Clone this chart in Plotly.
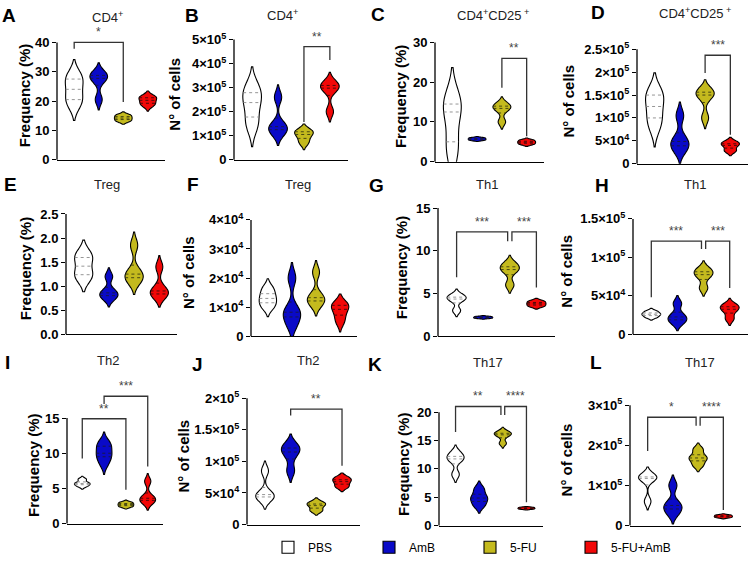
import numpy as np
import plotly.graph_objects as go

W, H = 750, 571
FONT = "Arial, 'Liberation Sans', sans-serif"

GROUPS = ["PBS", "AmB", "5-FU", "5-FU+AmB"]
COLORS = ["#FFFFFF", "#0A0AC8", "#C4BA1E", "#F20808"]
QCOLORS = ["#8a8a8a", "#1a1a3a", "#3a3a10", "#3a0a0a"]

# ---------------- data (PBS, AmB, 5-FU, 5-FU+AmB) ----------------
A_CD4_FREQ = [[19, 20.5, 24, 27.5, 28.5], [20.5, 27, 28.5, 29.5], [13.2, 14.2, 15.2], [18.5, 19.5, 21, 21.5]]
B_CD4_NUM = [[1.4e5, 1.6e5, 2.3e5, 2.45e5, 2.9e5, 3.0e5], [1.1e5, 1.3e5, 1.45e5, 2.6e5], [0.7e5, 0.95e5, 1.15e5, 1.2e5], [2.0e5, 2.9e5, 3.05e5, 3.2e5]]
C_CD25_FREQ = [[2, 5, 12.5, 14.5, 15.5], [5.4, 5.7, 6.0], [10, 13, 13.8, 14.5], [4.4, 4.9, 5.4]]
D_CD25_NUM = [[0.8e5, 1.0e5, 1.25e5, 1.5e5, 1.55e5], [0.3e5, 0.42e5, 0.55e5, 1.05e5], [1.0e5, 1.45e5, 1.55e5, 1.6e5], [0.28e5, 0.4e5, 0.47e5]]
E_TREG_FREQ = [[1.2, 1.25, 1.58, 1.64], [0.75, 0.82, 0.9, 1.2], [1.1, 1.2, 1.3, 1.85], [0.8, 0.85, 0.95, 1.4]]
F_TREG_NUM = [[1.0e4, 1.2e4, 1.4e4, 1.65e4], [0.4e4, 0.75e4, 0.9e4, 2.0e4], [1.1e4, 1.25e4, 1.4e4, 2.2e4], [0.5e4, 0.8e4, 1.05e4, 1.1e4]]
G_TH1_FREQ = [[3.0, 4.2, 4.5, 4.8], [2.1, 2.2, 2.3], [6.0, 7.6, 8.0, 8.5], [3.5, 3.8, 4.1]]
H_TH1_NUM = [[0.22e5, 0.25e5, 0.27e5, 0.3e5], [0.15e5, 0.2e5, 0.25e5, 0.4e5], [0.6e5, 0.75e5, 0.8e5, 0.85e5], [0.2e5, 0.3e5, 0.35e5, 0.38e5]]
I_TH2_FREQ = [[5.3, 5.6, 5.8, 6.3], [8.5, 9.5, 10, 11, 11.5], [2.4, 2.7, 3.0], [3.0, 3.4, 3.8, 6.0]]
J_TH2_NUM = [[0.4e5, 0.45e5, 0.5e5, 0.85e5], [0.85e5, 1.1e5, 1.2e5, 1.25e5], [0.22e5, 0.3e5, 0.35e5], [0.6e5, 0.68e5, 0.74e5]]
K_TH17_FREQ = [[9, 11.5, 12, 12.8], [3.5, 4.5, 5.2, 6.5], [14.5, 15.8, 16.2, 16.5], [2.9, 3.05, 3.2]]
L_TH17_NUM = [[0.6e5, 1.15e5, 1.2e5, 1.25e5], [0.3e5, 0.45e5, 0.55e5, 1.0e5], [1.5e5, 1.65e5, 1.72e5, 1.9e5], [0.2e5, 0.23e5, 0.26e5]]

# tick values / labels
T_40 = [0, 10, 20, 30, 40]
T_5E5 = [0, 1e5, 2e5, 3e5, 4e5, 5e5]
L_5E5 = ["0", "1×10<sup>5</sup>", "2×10<sup>5</sup>", "3×10<sup>5</sup>", "4×10<sup>5</sup>", "5×10<sup>5</sup>"]
T_30 = [0, 10, 20, 30]
T_25E5 = [0, 5e4, 1e5, 1.5e5, 2e5, 2.5e5]
L_25E5 = ["0", "5×10<sup>4</sup>", "1×10<sup>5</sup>", "1.5×10<sup>5</sup>", "2×10<sup>5</sup>", "2.5×10<sup>5</sup>"]
T_25 = [0, 0.5, 1.0, 1.5, 2.0, 2.5]
L_25 = ["0.0", "0.5", "1.0", "1.5", "2.0", "2.5"]
T_4E4 = [0, 1e4, 2e4, 3e4, 4e4]
L_4E4 = ["0", "1×10<sup>4</sup>", "2×10<sup>4</sup>", "3×10<sup>4</sup>", "4×10<sup>4</sup>"]
T_15 = [0, 5, 10, 15]
T_15E5 = [0, 5e4, 1e5, 1.5e5]
L_15E5 = ["0", "5×10<sup>4</sup>", "1×10<sup>5</sup>", "1.5×10<sup>5</sup>"]
T_2E5 = [0, 5e4, 1e5, 1.5e5, 2e5]
L_2E5 = ["0", "5×10<sup>4</sup>", "1×10<sup>5</sup>", "1.5×10<sup>5</sup>", "2×10<sup>5</sup>"]
T_20 = [0, 5, 10, 15, 20]
T_3E5 = [0, 1e5, 2e5, 3e5]
L_3E5 = ["0", "1×10<sup>5</sup>", "2×10<sup>5</sup>", "3×10<sup>5</sup>"]

# significance brackets: (group1, group2, height, leg1 end, leg2 end, label)
BR_A = [(0, 2, 40, 37.8, 19.7, "*")]
BR_B = [(2, 3, 4.7e5, 1.57e5, 4.15e5, "**")]
BR_C = [(2, 3, 26.0, 18.6, 6.4, "**")]
BR_D = [(2, 3, 2.37e5, 1.98e5, 0.63e5, "***")]
BR_G = [(0, 2, 12.2, 6.9, 11.1, "***"), (2, 3, 12.2, 11.1, 5.7, "***")]
BR_H = [(0, 2, 1.21e5, 0.48e5, 1.11e5, "***"), (2, 3, 1.21e5, 1.11e5, 0.6e5, "***")]
BR_I = [(0, 2, 14.9, 9.25, 4.8, "**"), (1, 3, 18.1, 17.0, 8.1, "***")]
BR_J = [(1, 3, 1.83e5, 1.73e5, 0.93e5, "**")]
BR_K = [(0, 2, 21.0, 16.5, 19.5, "**"), (2, 3, 21.0, 19.5, 4.1, "****")]
BR_L = [(0, 2, 2.7e5, 1.86e5, 2.49e5, "*"), (2, 3, 2.7e5, 2.49e5, 0.39e5, "****")]

FREQ = "Frequency (%)"
NUM = "N° of cells"
PANELS = [
    ("A", "CD4<sup>+</sup>", FREQ, A_CD4_FREQ, T_40, [str(t) for t in T_40], BR_A),
    ("B", "CD4<sup>+</sup>", NUM, B_CD4_NUM, T_5E5, L_5E5, BR_B),
    ("C", "CD4<sup>+</sup>CD25<sup> +</sup>", FREQ, C_CD25_FREQ, T_30, [str(t) for t in T_30], BR_C),
    ("D", "CD4<sup>+</sup>CD25<sup> +</sup>", NUM, D_CD25_NUM, T_25E5, L_25E5, BR_D),
    ("E", "Treg", FREQ, E_TREG_FREQ, T_25, L_25, []),
    ("F", "Treg", NUM, F_TREG_NUM, T_4E4, L_4E4, []),
    ("G", "Th1", FREQ, G_TH1_FREQ, T_15, [str(t) for t in T_15], BR_G),
    ("H", "Th1", NUM, H_TH1_NUM, T_15E5, L_15E5, BR_H),
    ("I", "Th2", FREQ, I_TH2_FREQ, T_15, [str(t) for t in T_15], BR_I),
    ("J", "Th2", NUM, J_TH2_NUM, T_2E5, L_2E5, BR_J),
    ("K", "Th17", FREQ, K_TH17_FREQ, T_20, [str(t) for t in T_20], BR_K),
    ("L", "Th17", NUM, L_TH17_NUM, T_3E5, L_3E5, BR_L),
]

# ---------------- layout geometry (pixels) ----------------
# (axis left x, axis right x, y of zero, y of top tick)
BOXES = [(57, 165, 162, 43), (234, 348, 162, 40), (435, 544, 164, 43), (637, 748, 166, 50),
         (66, 177, 339, 217), (251, 357, 341, 223), (438, 555, 341, 211), (633, 748, 339, 222),
         (67, 163, 531, 424), (247, 360, 532, 404), (439, 543, 533, 418), (630, 741, 533, 411)]
LETTER_POS = [(9, 16), (192, 16), (378, 15), (598, 13), (10, 187), (193, 187), (376, 188), (602, 188),
              (7, 368), (197, 370), (375, 370), (596, 368)]
TITLE_POS = [(107, 17), (282, 15), (493, 15), (695, 13), (107, 187), (298, 187), (487, 187), (695, 187),
             (108, 366), (308, 366), (488, 368), (700, 368)]
YTITLE_X = [24, 175, 400, 569, 25, 188, 401, 567, 34, 184, 404, 566]
EXT = 1.3
XR = [-0.7, 3.7]
VW = 0.72
BW_SCALE = 0.88


def bandwidth(v):
    v = np.asarray(v, float)
    n = len(v)
    sd = v.std(ddof=1)
    q1, q3 = np.percentile(v, [25, 75])
    a = min(sd, (q3 - q1) / 1.349) if q3 > q1 else sd
    return 1.059 * a * n ** -0.2 * BW_SCALE


def kde(v, bw, t):
    v = np.asarray(v, float)
    t = np.atleast_1d(t)
    return np.exp(-0.5 * ((t[:, None] - v[None, :]) / bw) ** 2).sum(1)


fig = go.Figure()
shapes, annotations = [], []
axis_line = dict(color="black", width=1.3)

for i, (letter, title, ylab, data, ticks, labels, brackets) in enumerate(PANELS):
    sfx = "" if i == 0 else str(i + 1)
    xa, ya = "x" + sfx, "y" + sfx
    x0, x1, yb, yt = BOXES[i]
    top = ticks[-1]
    dom_top_px = yb - (yb - yt) * EXT
    fig.update_layout(**{
        "xaxis" + sfx: dict(domain=[x0 / W, x1 / W], range=XR, anchor=ya, showline=True,
                            linecolor="black", linewidth=1.3, showticklabels=False, ticks="",
                            showgrid=False, zeroline=False, fixedrange=True),
        "yaxis" + sfx: dict(domain=[1 - yb / H, 1 - dom_top_px / H], range=[0, top * EXT], anchor=xa,
                            tickvals=ticks, ticktext=labels, ticks="outside", ticklen=4,
                            tickwidth=1.3, tickcolor="black", showline=False, showgrid=False,
                            zeroline=False, fixedrange=True,
                            tickfont=dict(family=FONT, size=13, color="black", weight="bold")),
    })
    # y axis line from 0 to top tick
    shapes.append(dict(type="line", xref="paper", yref="paper", x0=x0 / W, x1=x0 / W,
                       y0=1 - yb / H, y1=1 - yt / H, line=axis_line))

    for g in range(4):
        vals = np.asarray(data[g], float)
        bw = bandwidth(vals)
        fig.add_trace(go.Violin(
            x=[g] * len(vals), y=vals, xaxis=xa, yaxis=ya, name=GROUPS[g], legendgroup=GROUPS[g],
            showlegend=(i == 0), fillcolor=COLORS[g], line=dict(color="black", width=1.1),
            width=VW, bandwidth=bw, spanmode="soft", points=False, scalemode="width",
            hoverinfo="skip", box_visible=False, meanline_visible=False))
        # quartile lines
        grid = np.linspace(vals.min() - 2 * bw, vals.max() + 2 * bw, 400)
        dmax = kde(vals, bw, grid).max()
        for q in np.percentile(vals, [25, 50, 75]):
            hw = kde(vals, bw, q)[0] / dmax * VW / 2
            shapes.append(dict(type="line", xref=xa, yref=ya, x0=g - hw, x1=g + hw, y0=q, y1=q,
                               line=dict(color=QCOLORS[g], width=0.9, dash="dot")))

    # brackets
    for (g1, g2, h, e1, e2, lab) in brackets:
        xl = g1 + (0.08 if any(b[1] == g1 for b in brackets) else 0)
        xr = g2 - (0.08 if any(b[0] == g2 for b in brackets) else 0)
        shapes.append(dict(type="path", xref=xa, yref=ya,
                           path=f"M {xl},{e1} L {xl},{h} L {xr},{h} L {xr},{e2}",
                           line=dict(color="#333333", width=1.3)))
        annotations.append(dict(x=(xl + xr) / 2, y=h, xref=xa, yref=ya, text=lab, showarrow=False,
                                yanchor="bottom", yshift=1,
                                font=dict(family=FONT, size=12, color="#444444")))

    lx, ly = LETTER_POS[i]
    annotations.append(dict(x=lx / W, y=1 - ly / H, xref="paper", yref="paper", text=f"<b>{letter}</b>",
                            showarrow=False, xanchor="center", yanchor="middle",
                            font=dict(family=FONT, size=19, color="black")))
    tx, ty = TITLE_POS[i]
    annotations.append(dict(x=tx / W, y=1 - ty / H, xref="paper", yref="paper", text=title,
                            showarrow=False, xanchor="center", yanchor="middle",
                            font=dict(family=FONT, size=13, color="#222222")))
    annotations.append(dict(x=YTITLE_X[i] / W, y=1 - ((yb + yt) / 2 - 5) / H, xref="paper", yref="paper",
                            text=f"<b>{ylab}</b>", textangle=-90, showarrow=False,
                            xanchor="center", yanchor="middle",
                            font=dict(family=FONT, size=15, color="black")))

fig.update_layout(
    width=W, height=H, margin=dict(l=0, r=0, t=0, b=0),
    paper_bgcolor="white", plot_bgcolor="rgba(0,0,0,0)",
    violinmode="overlay", shapes=shapes, annotations=annotations,
    font=dict(family=FONT, color="black"),
    showlegend=True,
    legend=dict(orientation="h", x=268 / W, y=1 - 555 / H, xanchor="left", yanchor="middle",
                entrywidth=56, entrywidthmode="pixels", itemwidth=30,
                font=dict(family=FONT, size=12, color="black"),
                bgcolor="rgba(0,0,0,0)"),
)

fig.write_html("out.html")
